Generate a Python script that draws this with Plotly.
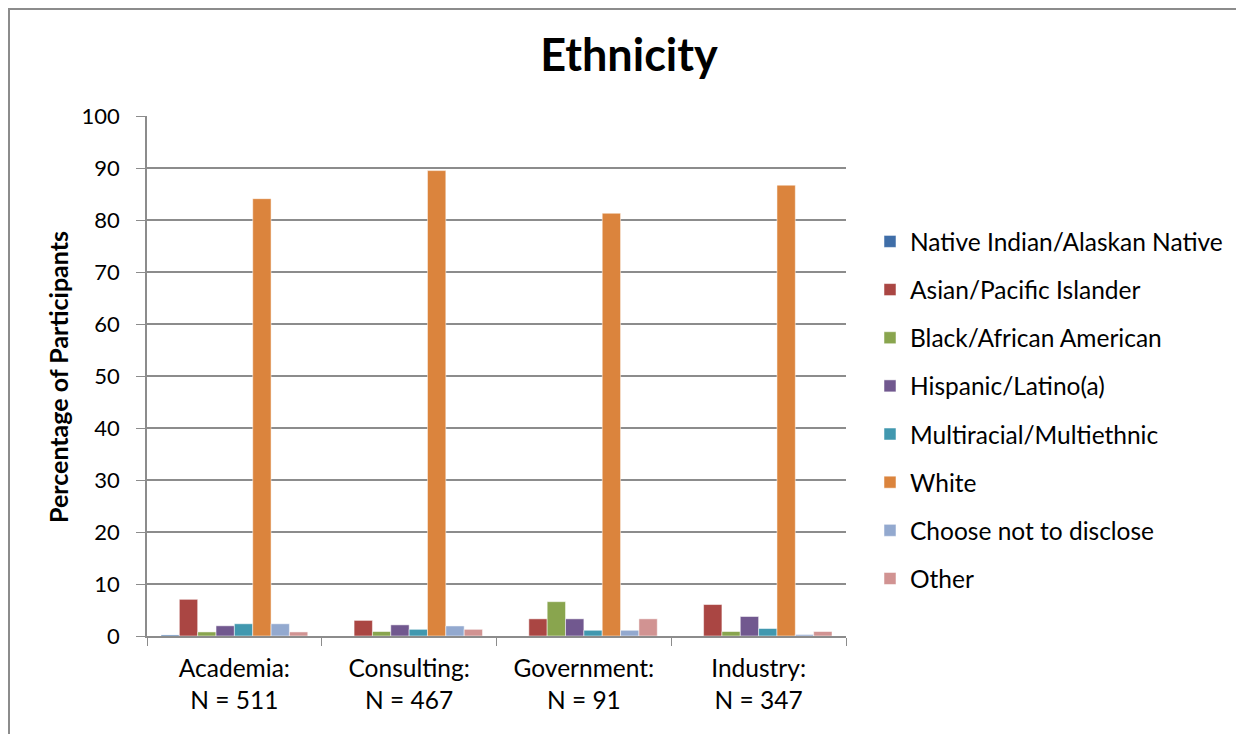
import plotly.graph_objects as go

categories = ["Academia:<br>N = 511", "Consulting:<br>N = 467", "Government:<br>N = 91", "Industry:<br>N = 347"]
series_names = ["Native Indian/Alaskan Native", "Asian/Pacific Islander", "Black/African American",
                "Hispanic/Latino(a)", "Multiracial/Multiethnic", "White", "Choose not to disclose", "Other"]
native = [0.2, 0.0, 0.0, 0.0]
asian = [7.05, 3.0, 3.3, 6.05]
black = [0.78, 0.86, 6.6, 0.86]
hispanic = [1.96, 2.14, 3.3, 3.75]
multiracial = [2.35, 1.28, 1.1, 1.44]
white = [84.1, 89.5, 81.3, 86.7]
not_disclose = [2.35, 1.93, 1.1, 0.29]
other = [0.78, 1.28, 3.3, 0.86]
series_values = [native, asian, black, hispanic, multiracial, white, not_disclose, other]
colors = ["#3F6EA8", "#AA4643", "#89A54E", "#71588F", "#4198AF", "#DB843D", "#93A9CF", "#D19392"]
y_ticks = [0, 10, 20, 30, 40, 50, 60, 70, 80, 90, 100]

FONT = "Lato"
fig = go.Figure()
for i, (name, vals) in enumerate(zip(series_names, series_values)):
    fig.add_trace(go.Bar(x=categories, y=vals, name=name, marker_color=colors[i],
                         marker_line=dict(color="rgba(255,255,255,0.5)", width=1),
                         legendgroup=f"g{i}"))

# page has 8px body offset; compensate
OFF = 8
W, H = 1244, 734
L, T = 147 - OFF, 116 - OFF
pw, ph = 699, 520
R = W - L - pw
B = H - T - ph

def px(xp):  # page x -> paper x
    return (xp - OFF - L) / pw

def py(yp):  # page y -> paper y
    return (T + ph - (yp - OFF)) / ph

fig.update_layout(
    width=W, height=H,
    margin=dict(l=L, r=R, t=T, b=B),
    paper_bgcolor="white", plot_bgcolor="white",
    barmode="group", bargap=0.16, bargroupgap=0,
    font=dict(family=FONT, size=22, color="black"),
    title=dict(text="<b>Ethnicity</b>", x=(629 - OFF) / W, xanchor="center", y=1 - (55 - OFF) / H,
               yanchor="middle", font=dict(family=FONT, size=45, color="black")),
    legend=dict(x=px(870), xanchor="left", y=py(219), yanchor="top",
                font=dict(family=FONT, size=24.5), tracegroupgap=13.3, traceorder="grouped",
                bgcolor="rgba(0,0,0,0)"),
    showlegend=True,
)
fig.update_yaxes(range=[0, 100], tickvals=y_ticks, showgrid=True, gridcolor="#8C8C8C", gridwidth=1.5,
                 showline=True, linecolor="#8C8C8C", linewidth=1.5, ticks="outside", ticklen=9,
                 tickcolor="#8C8C8C", zeroline=False, ticklabelstandoff=12,
                 tickfont=dict(family=FONT, size=22))
fig.update_xaxes(showline=True, linecolor="#8C8C8C", linewidth=1.5, ticks="outside", tickson="boundaries",
                 ticklen=8, tickcolor="#8C8C8C", ticklabelstandoff=10,
                 tickfont=dict(family=FONT, size=24.5))
fig.add_annotation(text="<b>Percentage of Participants</b>", textangle=-90, xref="paper", yref="paper",
                   x=px(58), y=py(377), xanchor="center", yanchor="middle",
                   showarrow=False, font=dict(family=FONT, size=25, color="black"))
fig.add_shape(type="rect", xref="paper", yref="paper",
              x0=(1 - L) / pw, x1=(W + 20 - L) / pw, y0=(T + ph - (H + 20)) / ph, y1=(T + ph - 1) / ph,
              line=dict(color="#8C8C8C", width=2), layer="below")
fig.write_html("out.html")
